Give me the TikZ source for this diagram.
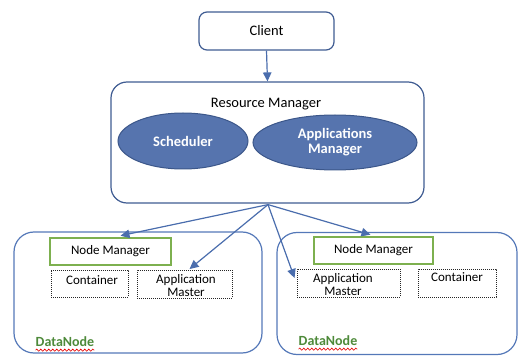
\documentclass[tikz,border=0pt]{standalone}
\usepackage{fontspec}
\setmainfont{Carlito}
\usetikzlibrary{arrows.meta,shapes.geometric,calc,decorations.pathmorphing}
\definecolor{lineblue}{HTML}{4A6DAD}
\definecolor{boxblue}{HTML}{3F5C92}
\definecolor{dnblue}{HTML}{5478B8}
\definecolor{ellfill}{HTML}{5674AE}
\definecolor{elldraw}{HTML}{3C578A}
\definecolor{nmgreen}{HTML}{7DB04F}
\definecolor{dngreen}{HTML}{4E8A3A}
\begin{document}
\begin{tikzpicture}[x=1pt,y=-1pt,
  bigbox/.style={draw=boxblue,line width=1.2pt,rounded corners=16pt,inner sep=0pt},
  ellnode/.style={ellipse,draw=elldraw,line width=1pt,fill=ellfill,text=white,font=\fontsize{14.5}{15}\selectfont\bfseries,align=center,inner sep=0pt},
  nmbox/.style={draw=nmgreen,line width=2.6pt,inner sep=0pt,font=\fontsize{13}{14}\selectfont},
  dotbox/.style={draw=black!85,dash pattern=on 0.9pt off 1.1pt,line width=0.9pt,inner sep=0pt},
  lbl/.style={inner sep=0pt,font=\fontsize{13}{13}\selectfont,align=center},
  dnlbl/.style={inner sep=0pt,font=\fontsize{14}{14}\selectfont\bfseries,text=dngreen},
  conn/.style={draw=lineblue,line width=1.2pt,-{Triangle[length=9pt,width=8.5pt]}},
  wavy/.style={draw=red!90!black,line width=0.6pt,decorate,decoration={snake,amplitude=1.1pt,segment length=4pt}}
]
\useasboundingbox (0,0) rectangle (525,358);
% Client
\node[bigbox,rounded corners=8pt,minimum width=135pt,minimum height=38pt,font=\fontsize{14.5}{15}\selectfont] (client) at (266.5,31) {Client};
% Resource manager
\node[bigbox,minimum width=313pt,minimum height=121pt] (rm) at (267.5,142.5) {};
\node[inner sep=0pt,font=\fontsize{14.5}{15}\selectfont] (rmlbl) at (266,104) {Resource Manager};
\node[ellnode,minimum width=130pt,minimum height=56pt] (sched) at (183,141) {Scheduler};
\node[ellnode,minimum width=164pt,minimum height=55pt] (appm) at (335,142.5) {Applications\\Manager};
% DataNodes
\node[bigbox,draw=dnblue,rounded corners=20pt,minimum width=248pt,minimum height=121pt] (ldn) at (138,292.5) {};
\node[bigbox,draw=dnblue,rounded corners=20pt,minimum width=240pt,minimum height=122pt] (rdn) at (397,293.5) {};
% left contents
\node[nmbox,minimum width=121pt,minimum height=27pt] (lnm) at (110.5,251.5) {Node Manager};
\node[dotbox,minimum width=77pt,minimum height=27pt] (lcont) at (89.5,283.5) {};
\node[lbl] (lcontlbl) at (92,280.5) {Container};
\node[dotbox,minimum width=95pt,minimum height=28pt] (lam) at (184.5,284) {};
\node[lbl,font=\fontsize{13}{12.5}\selectfont] (lamlbl) at (186,285.5) {Application\\Master};
\node[dnlbl] (ldnlbl) at (65,342) {DataNode};
% right contents
\node[nmbox,minimum width=119pt,minimum height=27pt] (rnm) at (373.5,250.5) {Node Manager};
\node[dotbox,minimum width=103pt,minimum height=28pt] (ram) at (348.5,283) {};
\node[lbl,font=\fontsize{13}{12.5}\selectfont] (ramlbl) at (343,284.5) {Application\\Master};
\node[dotbox,minimum width=78pt,minimum height=28pt] (rcont) at (457,283) {};
\node[lbl] (rcontlbl) at (457,277.5) {Container};
\node[dnlbl] (rdnlbl) at (328,341) {DataNode};
% red wavy underlines
\draw[wavy] ($(ldnlbl.south west)+(0,3)$) -- ($(ldnlbl.south east)+(0,3)$);
\draw[wavy] ($(rdnlbl.south west)+(0,3)$) -- ($(rdnlbl.south east)+(0,3)$);
% connectors
\draw[conn] (client.south) -- (rm.north);
\coordinate (src) at ($(rm.south)+(0.5,1)$);
\coordinate (tlnm) at ($(lnm.north)+(10,-1)$);
\coordinate (tlam) at ($(lam.north)+(5,-0.5)$);
\coordinate (tram) at ($(ram.west)+(-2,-5)$);
\coordinate (trnm) at ($(rnm.north)+(-3,-1)$);
\draw[conn] (src) -- (tlnm);
\draw[conn] (src) -- (tlam);
\draw[conn] (src) -- (tram);
\draw[conn] (src) -- (trnm);
\end{tikzpicture}
\end{document}
